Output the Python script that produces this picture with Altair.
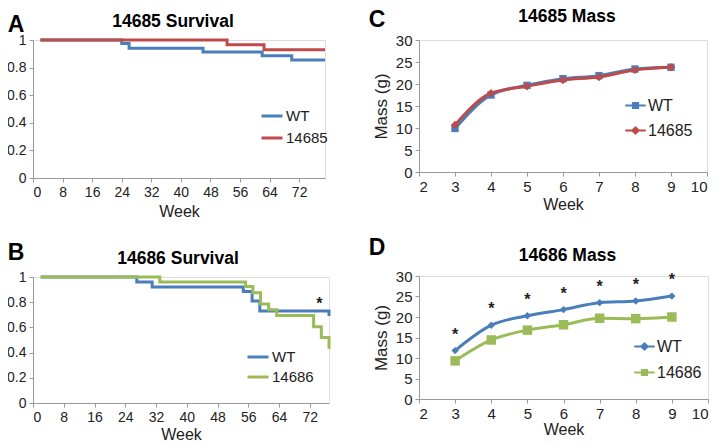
import altair as alt
import pandas as pd

FONT = "Liberation Sans"
BLUE = "#4a7ebb"
RED = "#be4b48"
GREEN = "#9bbb59"

# ---------- data ----------
# Panel A: 14685 survival (Kaplan-Meier steps)
a_wt_week = [2, 24, 26, 46, 62, 70, 79]
a_wt_surv = [1.0, 0.975, 0.94, 0.913, 0.885, 0.855, 0.855]
a_ko_week = [2, 52.5, 62.5, 79]
a_ko_surv = [1.0, 0.965, 0.93, 0.93]

# Panel B: 14686 survival
b_wt_week = [2, 27, 31, 54.7, 57, 59, 77]
b_wt_surv = [1.0, 0.96, 0.92, 0.885, 0.81, 0.73, 0.69]
b_ko_week = [2, 33, 55.3, 57.2, 59.2, 61.3, 63.4, 73, 75, 77]
b_ko_surv = [1.0, 0.96, 0.925, 0.875, 0.785, 0.74, 0.695, 0.605, 0.52, 0.43]
b_star_week = [74.5]
b_star_surv = [0.81]

# Panel C: 14685 mass
c_week = [3, 4, 5, 6, 7, 8, 9]
c_wt_mass = [9.9, 17.5, 19.7, 21.2, 21.9, 23.4, 23.8]
c_ko_mass = [10.7, 17.9, 19.5, 20.9, 21.6, 23.2, 23.8]

# Panel D: 14686 mass
d_week = [3, 4, 5, 6, 7, 8, 9]
d_wt_mass = [11.8, 18.0, 20.3, 21.8, 23.5, 23.9, 25.1]
d_ko_mass = [9.3, 14.4, 16.8, 18.1, 19.7, 19.6, 20.0]

titles = ["14685 Survival", "14686 Survival", "14685 Mass", "14686 Mass"]
letters = ["A", "B", "C", "D"]


def long(weeks_a, vals_a, name_a, weeks_b, vals_b, name_b, vname):
    return pd.concat([
        pd.DataFrame({"week": weeks_a, vname: vals_a, "group": name_a}),
        pd.DataFrame({"week": weeks_b, vname: vals_b, "group": name_b}),
    ], ignore_index=True)


axis_common = dict(
    domainColor="#9a9a9a", tickColor="#9a9a9a", labelColor="#222222",
    labelFont=FONT, titleFont=FONT, titleColor="#222222", grid=False,
    tickSize=4, titleFontWeight="normal", labelOverlap=False,
)


def label_text(txt, dx, dy, size):
    return alt.Chart(pd.DataFrame({"t": [txt]})).mark_text(
        font=FONT, fontSize=size, fontWeight="bold", align="center",
        baseline="top", color="#000000"
    ).encode(x=alt.value(dx), y=alt.value(dy), text="t:N")


def survival(df, title, ch, names, colors, xmax, w, h, lx, ly, lgap, tpos, lpos,
             xtitle_pad, star=None):
    base = alt.Chart(df)
    x = alt.X("week:Q", scale=alt.Scale(domain=[0, xmax], nice=False, zero=False),
              axis=alt.Axis(values=list(range(0, 73, 8)), title="Week",
                            labelFontSize=14, titleFontSize=16, labelPadding=3,
                            titlePadding=xtitle_pad, **axis_common))
    y = alt.Y("surv:Q", scale=alt.Scale(domain=[0, 1], nice=False),
              axis=alt.Axis(values=[0, 0.2, 0.4, 0.6, 0.8, 1.0], format=".1~f",
                            title=None, labelFontSize=14, labelPadding=3,
                            **axis_common))
    line = base.mark_line(interpolate="step-after", strokeWidth=3).encode(
        x=x, y=y,
        color=alt.Color("group:N", scale=alt.Scale(domain=names, range=colors),
                        legend=alt.Legend(
                            title=None, orient="none", legendX=lx, legendY=ly,
                            symbolType="stroke", symbolSize=441, symbolStrokeWidth=3,
                            labelFont=FONT, labelFontSize=15, labelColor="#222222",
                            rowPadding=lgap, labelOffset=2)),
        order="week:Q",
        detail="group:N",
    )
    layers = [line]
    if star is not None:
        layers.append(alt.Chart(star).mark_text(
            text="*", font=FONT, fontSize=16, fontWeight="bold", color="#222222",
            baseline="middle", dy=3).encode(x=x, y=y))
    layers.append(label_text(title, w / 2 + tpos[0], tpos[1], 17.5))
    layers.append(label_text(ch, lpos[0], lpos[1], 23))
    return alt.layer(*layers).properties(width=w, height=h)


def mass(df, title, ch, names, colors, shapes, sizes, legend_paths, w, h, lx, ly, lgap,
         tpos, lpos, xtitle_pad, stars=None):
    base = alt.Chart(df)
    x = alt.X("week:Q", scale=alt.Scale(domain=[2, 10], nice=False, zero=False),
              axis=alt.Axis(values=list(range(2, 11)), title="Week", labelFontSize=15,
                            titleFontSize=16, labelPadding=3,
                            titlePadding=xtitle_pad, **axis_common))
    y = alt.Y("mass:Q", scale=alt.Scale(domain=[0, 30], nice=False),
              axis=alt.Axis(values=list(range(0, 31, 5)), title="Mass (g)",
                            labelFontSize=15, titleFontSize=17, labelPadding=3,
                            titlePadding=5, **axis_common))
    cscale = alt.Scale(domain=names, range=colors)
    sig = "datum.value === '%s' ? '%s' : '%s'" % (names[0], legend_paths[0], legend_paths[1])
    leg = alt.Legend(
        title=None, orient="none", legendX=lx, legendY=ly,
        symbolSize=420, labelFont=FONT, labelFontSize=16, labelColor="#222222",
        rowPadding=lgap, labelOffset=2, symbolType=alt.ExprRef(sig),
        symbolStrokeWidth=0, symbolOpacity=1)
    line = base.mark_line(interpolate="monotone", strokeWidth=3).encode(
        x=x, y=y, color=alt.Color("group:N", scale=cscale, legend=leg),
        order="week:Q")
    pts = base.mark_point(filled=True, opacity=1).encode(
        x=x, y=y,
        color=alt.Color("group:N", scale=cscale, legend=leg),
        shape=alt.Shape("group:N", scale=alt.Scale(domain=names, range=shapes), legend=None),
        size=alt.Size("group:N", scale=alt.Scale(domain=names, range=sizes), legend=None),
    )
    layers = [line, pts]
    if stars is not None:
        layers.append(alt.Chart(stars).mark_text(
            text="*", font=FONT, fontSize=16, fontWeight="bold", color="#222222",
            baseline="middle", dy=-16).encode(x=x, y=y))
    layers.append(label_text(title, w / 2 + tpos[0], tpos[1], 17.5))
    layers.append(label_text(ch, lpos[0], lpos[1], 23))
    return alt.layer(*layers).resolve_scale(shape="independent", size="independent").properties(
        width=w, height=h)


LINE = "M-1,-0.1L1,-0.1L1,0.1L-1,0.1Z "
SQ = LINE + "M-0.35,-0.35L0.35,-0.35L0.35,0.35L-0.35,0.35Z"
DI = LINE + "M0,-0.45L0.45,0L0,0.45L-0.45,0Z"

dfA = long(a_wt_week, a_wt_surv, "WT", a_ko_week, a_ko_surv, "14685", "surv")
dfB = long(b_wt_week, b_wt_surv, "WT", b_ko_week, b_ko_surv, "14686", "surv")
dfC = long(c_week, c_wt_mass, "WT", c_week, c_ko_mass, "14685", "mass")
dfD = long(d_week, d_wt_mass, "WT", d_week, d_ko_mass, "14686", "mass")
starB = pd.DataFrame({"week": b_star_week, "surv": b_star_surv})
starD = pd.DataFrame({"week": d_week, "mass": d_wt_mass})

A = survival(dfA, titles[0], letters[0], ["WT", "14685"], [BLUE, RED], 79, 292, 138,
             227, 64, 2, tpos=(-6, -27), lpos=(-17, -26), xtitle_pad=4)
B = survival(dfB, titles[1], letters[1], ["WT", "14686"], [BLUE, GREEN], 77, 296, 126,
             213, 68, -2, tpos=(-3, -27), lpos=(-17, -35), xtitle_pad=2, star=starB)
C = mass(dfC, titles[2], letters[2], ["WT", "14685"], [BLUE, RED], ["square", "diamond"],
         [55, 70], [SQ, DI], 288, 132, 206, 55, 6, tpos=(4, -32), lpos=(-42, -31),
         xtitle_pad=2)
D = mass(dfD, titles[3], letters[3], ["WT", "14686"], [BLUE, GREEN], ["diamond", "square"],
         [55, 90], [DI, SQ], 289, 123, 215, 60, 7, tpos=(4, -29), lpos=(-42, -39),
         xtitle_pad=0, stars=starD)

left = alt.vconcat(A, B, spacing=21).resolve_scale(color="independent")
right = alt.vconcat(C, D, spacing=23).resolve_scale(color="independent")
chart = alt.hconcat(left, right, spacing=32).resolve_scale(
    color="independent", shape="independent", size="independent"
).properties(padding={"left": -2, "top": -1, "right": 0, "bottom": 0}
).configure_view(stroke=None).configure(background="#ffffff")

chart.save("out.html", embed_options={"renderer": "svg", "actions": False})
